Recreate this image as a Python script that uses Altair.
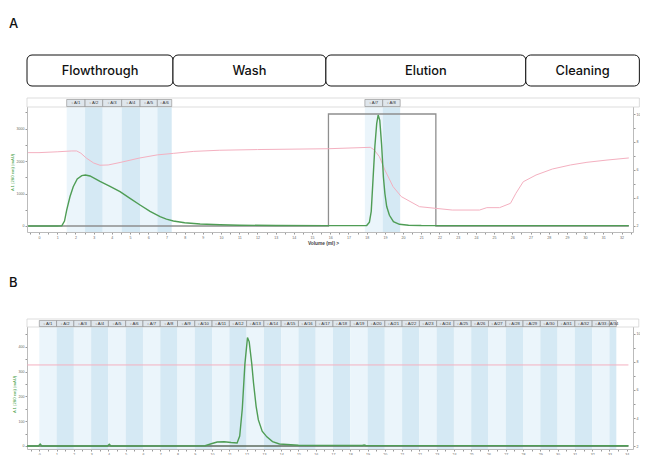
import altair as alt
import pandas as pd

# ---------------- data ----------------
phase_names = ["Flowthrough", "Wash", "Elution", "Cleaning"]
phase_start = [-0.66, 7.36, 15.76, 26.74]
phase_end = [7.36, 15.76, 26.74, 32.98]

# Panel A – UV 280 nm (mAU)
a_uv_x = [-0.6, 1.0, 1.25, 1.4, 1.52, 1.7, 1.88, 2.1, 2.35, 2.55, 2.8, 3.35, 3.9, 4.45, 5.0, 5.55,
          6.1, 6.65, 7.0, 7.38, 8.0, 8.85, 9.95, 11.0, 13.0, 15.8, 17.8, 18.0, 18.15, 18.25, 18.35,
          18.45, 18.55, 18.63, 18.72, 18.82, 18.92, 19.0, 19.1, 19.25, 19.47, 19.8, 20.3, 21.0, 24.0, 32.4]
a_uv_y = [0, 0, 5, 150, 490, 900, 1210, 1450, 1550, 1570, 1540, 1370, 1220, 1055, 850, 646,
          450, 286, 210, 154, 100, 62, 40, 25, 15, 10, 10, 15, 120, 450, 1450,
          2450, 3150, 3415, 3250, 2500, 1500, 1000, 600, 330, 132, 52, 25, 15, 12, 10]

# Panel A – pH (right axis)
a_ph_x = [-0.6, 0.0, 1.0, 1.8, 2.07, 2.3, 2.6, 3.0, 3.35, 3.8, 4.5, 5.5, 6.5, 7.4, 8.5, 9.9, 12.0,
          15.9, 18.2, 18.4, 18.7, 19.0, 19.45, 19.9, 20.9, 22.7, 24.2, 24.6, 25.3, 25.9, 26.2, 26.6,
          27.3, 28.2, 29.2, 30.1, 31.2, 32.4]
a_ph_y = [7.24, 7.24, 7.30, 7.36, 7.36, 7.20, 6.85, 6.50, 6.34, 6.36, 6.55, 6.85, 7.08, 7.19, 7.33,
          7.41, 7.46, 7.52, 7.62, 7.45, 6.95, 6.00, 4.81, 4.10, 3.38, 3.14, 3.14, 3.31, 3.31, 3.62,
          4.34, 5.16, 5.64, 6.07, 6.36, 6.55, 6.71, 6.86]

# Panel A – step (right axis)
a_step_x = [-0.6, 15.9, 15.9, 21.8, 21.8, 32.4]
a_step_y = [2, 2, 10, 10, 2, 2]

# Panel A – fractions
a_frac_labels = ["A/1", "A/2", "A/3", "A/4", "A/5", "A/6", "A/7", "A/8"]
a_frac_start = [1.52, 2.53, 3.50, 4.54, 5.55, 6.50, 17.90, 18.88]
a_frac_end = [2.53, 3.50, 4.54, 5.55, 6.50, 7.29, 18.88, 19.84]

# Panel B – UV 280 nm (mAU)
b_uv_x = [-0.7, -0.05, 0.05, 0.15, 3.95, 4.05, 4.15, 9.6, 10.0, 10.3, 10.7, 11.1, 11.45, 11.6, 11.75,
          11.9, 12.05, 12.15, 12.3, 12.4, 12.55, 12.68, 12.9, 13.17, 13.5, 13.9, 15.0, 18.7, 18.8,
          18.9, 34.1]
b_uv_y = [0, 0, 8, 0, 0, 7, 0, 1, 10, 16, 17, 14, 12, 40, 150,
          330, 437, 420, 330, 254, 160, 105, 60, 37, 18, 8, 3, 2, 4,
          2, 1]

b_ph_x = [-0.7, 34.1]
b_ph_y = [7.79, 7.79]
b_step_x = [-0.7, 34.1]
b_step_y = [2, 2]

b_frac_labels = [f"A/{i}" for i in range(1, 35)]
b_frac_start = list(range(0, 34))
b_frac_end = list(range(1, 34)) + [33.4]

# ---------------- layout / scales ----------------
W, H = 632, 447
XR = [19, 625]
XA = alt.Scale(domain=[-0.66, 32.63], range=XR, nice=False, zero=False)
YAL = alt.Scale(domain=[-185, 3940], range=[224, 90], nice=False, zero=False)
YAR = alt.Scale(domain=[1.571, 11.143], range=[224, 90], nice=False, zero=False)
XB = alt.Scale(domain=[-0.712, 34.365], range=XR, nice=False, zero=False)
YBL = alt.Scale(domain=[-12.1, 512], range=[441, 311], nice=False, zero=False)
YBR = alt.Scale(domain=[1.786, 11.071], range=[441, 311], nice=False, zero=False)

GREEN = "#4f9d55"
PINK = "#f4b0c0"
LIGHT = "#ebf5fb"
DARK = "#d5e9f4"

AX = dict(labelFontSize=3.6, labelColor="#666", tickColor="#999", domainColor="#bbb",
          tickSize=2, labelPadding=1, grid=False, labelOverlap=False, labelFlush=False,
          labelFont="Liberation Sans", titleFont="Liberation Sans")

def df_line(xs, ys):
    return pd.DataFrame({"x": xs, "y": ys})

def frac_df(labels, starts, ends):
    d = pd.DataFrame({"label": labels, "s": starts, "e": ends})
    d["mid"] = (d["s"] + d["e"]) / 2
    d["shade"] = [LIGHT if i % 2 == 0 else DARK for i in range(len(d))]
    d["txt"] = "▫ " + d["label"]
    return d

def panel(xsc, band_end, ylsc, yrsc, uv, ph, step, fr, top, hb, bottom, step_color,
          x_axis, yl_axis, yr_axis):
    layers = []
    x0 = alt.X("s:Q", scale=xsc, axis=None)
    layers.append(alt.Chart(fr).mark_rect().encode(
        x=x0, x2="e:Q", y=alt.value(hb), y2=alt.value(bottom),
        color=alt.Color("shade:N", scale=None)))
    layers.append(alt.Chart(pd.DataFrame({"s": [xsc.domain[0]], "e": [band_end]})).mark_rect(
        fill="white", stroke="#d4d4d4", strokeWidth=0.8).encode(
        x=x0, x2="e:Q", y=alt.value(top), y2=alt.value(hb)))
    layers.append(alt.Chart(fr).mark_rect(fill="#dfe6ec", stroke="#8a8a8a", strokeWidth=0.6).encode(
        x=x0, x2="e:Q", y=alt.value(top + 1.5), y2=alt.value(hb - 0.5)))
    layers.append(alt.Chart(fr).mark_text(fontSize=4.2, color="#333", font="Liberation Sans").encode(
        x=alt.X("mid:Q", scale=xsc, axis=None), y=alt.value((top + hb) / 2 + 0.5), text="txt:N"))
    layers.append(alt.Chart(step).mark_line(color=step_color, strokeWidth=1.3).encode(
        x=alt.X("x:Q", scale=xsc, axis=None), y=alt.Y("y:Q", scale=yrsc, axis=None)))
    layers.append(alt.Chart(ph).mark_line(color=PINK, strokeWidth=1).encode(
        x=alt.X("x:Q", scale=xsc, axis=None), y=alt.Y("y:Q", scale=yrsc, axis=yr_axis)))
    layers.append(alt.Chart(uv).mark_line(color=GREEN, strokeWidth=1.4).encode(
        x=alt.X("x:Q", scale=xsc, axis=x_axis), y=alt.Y("y:Q", scale=ylsc, axis=yl_axis)))
    return layers

def half(lo, hi):
    return [lo + 0.5 * i for i in range(int((hi - lo) * 2) + 1)]

R_OFF = -(W - XR[1])
xA_axis = alt.Axis(orient="bottom", offset=-(H - 224), values=half(-0.5, 32.5), format=".1f",
                   labelExpr="datum.value % 1 === 0 ? format(datum.value, 'd') : ''",
                   title="Volume (ml) >", titleFontSize=4.8, titleFontWeight="bold",
                   titleColor="#444", titlePadding=2, titleX=315, **AX)
yAL_axis = alt.Axis(orient="left", offset=-19, values=list(range(0, 3501, 500)),
                    labelExpr="datum.value % 1000 === 0 ? format(datum.value, 'd') : ''",
                    title="A 1 (280 nm) (mAU)", titleFontSize=4.2, titleColor="#3a9a3a",
                    titleFontWeight="normal", titlePadding=2, titleY=164, **AX)
yAR_axis = alt.Axis(orient="right", offset=R_OFF, values=list(range(2, 11)),
                    labelExpr="datum.value % 2 === 0 ? format(datum.value, 'd') : ''",
                    title=None, **AX)
xB_axis = alt.Axis(orient="bottom", offset=-(H - 441), values=half(-0.5, 34.0), format=".1f",
                   labelExpr="datum.value % 1 === 0 ? format(datum.value, 'd') : ''",
                   title=None, **AX)
yBL_axis = alt.Axis(orient="left", offset=-19, values=list(range(0, 451, 50)),
                    labelExpr="datum.value % 100 === 0 ? format(datum.value, 'd') : ''",
                    title="A 1 (280 nm) (mAU)", titleFontSize=4.2, titleColor="#3a9a3a",
                    titleFontWeight="normal", titlePadding=2, titleY=386, **AX)
yBR_axis = alt.Axis(orient="right", offset=R_OFF, values=list(range(2, 11)),
                    labelExpr="datum.value % 2 === 0 ? format(datum.value, 'd') : ''",
                    title=None, **AX)

layers = []
ph_df = pd.DataFrame({"name": phase_names, "s": phase_start, "e": phase_end})
ph_df["mid"] = (ph_df["s"] + ph_df["e"]) / 2
layers.append(alt.Chart(ph_df).mark_rect(fill="white", stroke="#111", strokeWidth=1, cornerRadius=5).encode(
    x=alt.X("s:Q", scale=XA, axis=None), x2="e:Q", y=alt.value(47), y2=alt.value(78)))
layers.append(alt.Chart(ph_df).mark_text(fontSize=12.8, font="Inter", fontWeight=500, color="#111").encode(
    x=alt.X("mid:Q", scale=XA, axis=None), y=alt.value(63), text="name:N"))

layers += panel(XA, 32.98, YAL, YAR, df_line(a_uv_x, a_uv_y), df_line(a_ph_x, a_ph_y),
                df_line(a_step_x, a_step_y), frac_df(a_frac_labels, a_frac_start, a_frac_end),
                90, 99, 224, "#8f8f8f", xA_axis, yAL_axis, yAR_axis)
layers += panel(XB, 34.7, YBL, YBR, df_line(b_uv_x, b_uv_y), df_line(b_ph_x, b_ph_y),
                df_line(b_step_x, b_step_y), frac_df(b_frac_labels, b_frac_start, b_frac_end),
                311, 319, 441, "#5e6b5e", xB_axis, yBL_axis, yBR_axis)

for letter, yy in [("A", 16), ("B", 275)]:
    layers.append(alt.Chart(pd.DataFrame({"t": [letter]})).mark_text(
        fontSize=13, font="Inter", fontWeight=500, color="#111", align="left").encode(
        x=alt.value(1), y=alt.value(yy), text="t:N"))

chart = alt.layer(*layers).resolve_scale(x="independent", y="independent").properties(
    width=W, height=H, autosize=alt.AutoSizeParams(type="none"), padding=0,
    background="white").configure_view(stroke=None)

chart.save("out.html", embed_options={"renderer": "svg", "actions": False})
